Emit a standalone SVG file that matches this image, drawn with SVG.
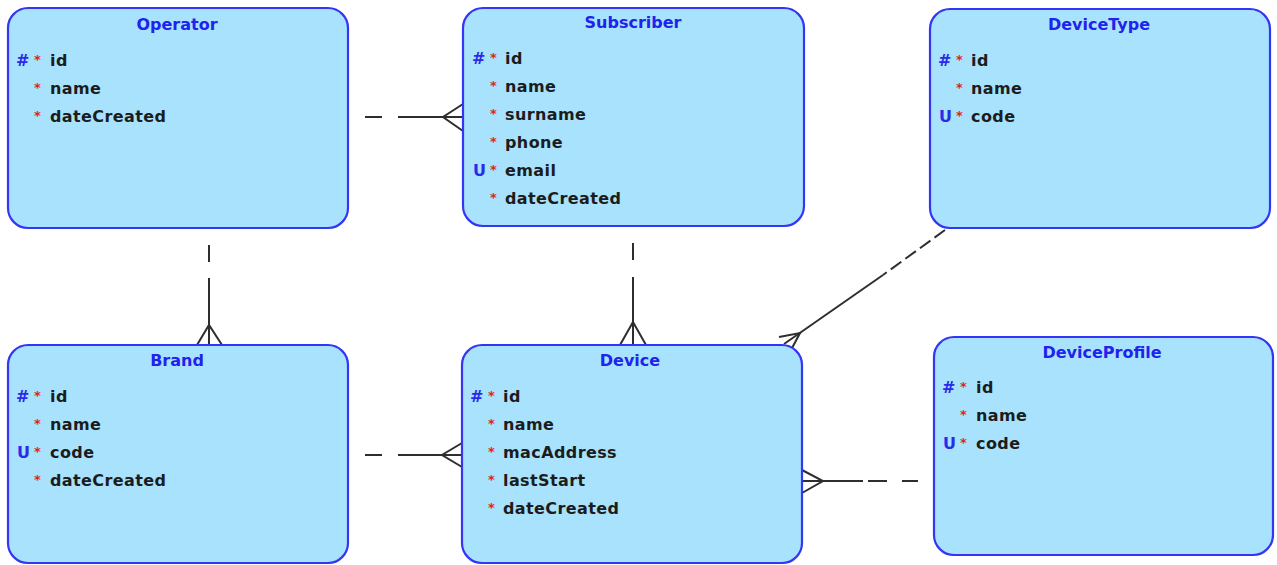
<svg xmlns="http://www.w3.org/2000/svg" width="1277" height="565" viewBox="0 0 1277 565">
  <style>
    .box { fill: #a8e2fc; stroke: #3535f5; stroke-width: 2.2; }
    .title { font-family: "DejaVu Sans", sans-serif; font-weight: bold; font-size: 16px; fill: #2222ee; text-anchor: middle; }
    .attr { font-family: "DejaVu Sans", sans-serif; font-weight: bold; font-size: 16px; fill: #1c1c1c; letter-spacing: 0.4px; }
    .key { font-family: "DejaVu Sans", sans-serif; font-weight: bold; font-size: 16px; fill: #2a2ae8; }
    .req { font-family: "DejaVu Sans", sans-serif; font-weight: bold; font-size: 13px; fill: #e42020; }
    .rel { fill: none; stroke: #2e2e2e; stroke-width: 2; }
  </style>

  <!-- relationship lines -->
  <g id="connectors">
    <!-- Operator - Subscriber -->
    <line class="rel" x1="365" y1="117" x2="382" y2="117"/>
    <line class="rel" x1="398" y1="117" x2="463" y2="117"/>
    <polyline class="rel" points="463,104 443,117 463,131"/>
    <!-- Operator - Brand -->
    <line class="rel" x1="209" y1="245" x2="209" y2="262"/>
    <line class="rel" x1="209" y1="278" x2="209" y2="345"/>
    <polyline class="rel" points="197,345 209,325 222,345"/>
    <!-- Subscriber - Device -->
    <line class="rel" x1="633" y1="243" x2="633" y2="260"/>
    <line class="rel" x1="633" y1="277" x2="633" y2="345"/>
    <polyline class="rel" points="620,345 633,322 646,345"/>
    <!-- DeviceType - Device -->
    <line class="rel" x1="945" y1="230" x2="883" y2="275" stroke="#6a6a6a" stroke-dasharray="13 5"/>
    <line class="rel" x1="883" y1="275" x2="784" y2="344"/>
    <polyline class="rel" points="779,337 800,333 791,350"/>
    <!-- Brand - Device -->
    <line class="rel" x1="365" y1="455" x2="382" y2="455"/>
    <line class="rel" x1="398" y1="455" x2="462" y2="455"/>
    <polyline class="rel" points="462,443 442,455 462,467"/>
    <!-- Device - DeviceProfile -->
    <line class="rel" x1="802" y1="481" x2="863" y2="481"/>
    <line class="rel" x1="868" y1="481" x2="887" y2="481"/>
    <line class="rel" x1="902" y1="481" x2="918" y2="481"/>
    <polyline class="rel" points="802,470 823,481 802,493"/>
  </g>

  <g id="operator">
    <rect class="box" x="8" y="8" width="340" height="220" rx="20"/>
    <text class="title" x="177" y="30">Operator</text>
    <text class="key" x="16" y="66">#</text>
    <text class="req" x="34" y="64">*</text><text class="attr" x="50" y="66">id</text>
    <text class="req" x="34" y="92">*</text><text class="attr" x="50" y="94">name</text>
    <text class="req" x="34" y="120">*</text><text class="attr" x="50" y="122">dateCreated</text>
  </g>

  <g id="subscriber">
    <rect class="box" x="463" y="8" width="341" height="218" rx="20"/>
    <text class="title" x="633" y="28">Subscriber</text>
    <text class="key" x="472" y="64">#</text>
    <text class="req" x="490" y="62">*</text><text class="attr" x="505" y="64">id</text>
    <text class="req" x="490" y="90">*</text><text class="attr" x="505" y="92">name</text>
    <text class="req" x="490" y="118">*</text><text class="attr" x="505" y="120">surname</text>
    <text class="req" x="490" y="146">*</text><text class="attr" x="505" y="148">phone</text>
    <text class="key" x="473" y="176">U</text>
    <text class="req" x="490" y="174">*</text><text class="attr" x="505" y="176">email</text>
    <text class="req" x="490" y="202">*</text><text class="attr" x="505" y="204">dateCreated</text>
  </g>

  <g id="deviceType">
    <rect class="box" x="930" y="9" width="340" height="219" rx="20"/>
    <text class="title" x="1099" y="30">DeviceType</text>
    <text class="key" x="938" y="66">#</text>
    <text class="req" x="956" y="64">*</text><text class="attr" x="971" y="66">id</text>
    <text class="req" x="956" y="92">*</text><text class="attr" x="971" y="94">name</text>
    <text class="key" x="939" y="122">U</text>
    <text class="req" x="956" y="120">*</text><text class="attr" x="971" y="122">code</text>
  </g>

  <g id="brand">
    <rect class="box" x="8" y="345" width="340" height="218" rx="20"/>
    <text class="title" x="177" y="366">Brand</text>
    <text class="key" x="16" y="402">#</text>
    <text class="req" x="34" y="400">*</text><text class="attr" x="50" y="402">id</text>
    <text class="req" x="34" y="428">*</text><text class="attr" x="50" y="430">name</text>
    <text class="key" x="17" y="458">U</text>
    <text class="req" x="34" y="456">*</text><text class="attr" x="50" y="458">code</text>
    <text class="req" x="34" y="484">*</text><text class="attr" x="50" y="486">dateCreated</text>
  </g>

  <g id="device">
    <rect class="box" x="462" y="345" width="340" height="218" rx="20"/>
    <text class="title" x="630" y="366">Device</text>
    <text class="key" x="470" y="402">#</text>
    <text class="req" x="488" y="400">*</text><text class="attr" x="503" y="402">id</text>
    <text class="req" x="488" y="428">*</text><text class="attr" x="503" y="430">name</text>
    <text class="req" x="488" y="456">*</text><text class="attr" x="503" y="458">macAddress</text>
    <text class="req" x="488" y="484">*</text><text class="attr" x="503" y="486">lastStart</text>
    <text class="req" x="488" y="512">*</text><text class="attr" x="503" y="514">dateCreated</text>
  </g>

  <g id="deviceProfile">
    <rect class="box" x="934" y="337" width="339" height="218" rx="20"/>
    <text class="title" x="1102" y="358">DeviceProfile</text>
    <text class="key" x="942" y="393">#</text>
    <text class="req" x="960" y="391">*</text><text class="attr" x="976" y="393">id</text>
    <text class="req" x="960" y="419">*</text><text class="attr" x="976" y="421">name</text>
    <text class="key" x="943" y="449">U</text>
    <text class="req" x="960" y="447">*</text><text class="attr" x="976" y="449">code</text>
  </g>
</svg>
